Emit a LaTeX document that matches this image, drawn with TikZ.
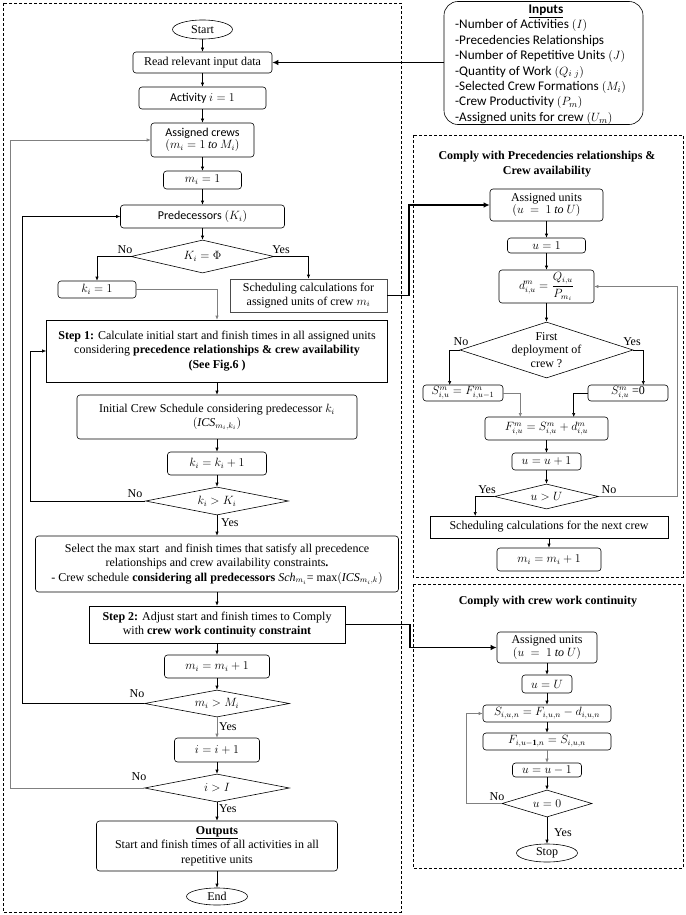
\documentclass[tikz,border=0pt]{standalone}
\usepackage{fontspec}
\setmainfont{Liberation Serif}
\newfontfamily\calib{Carlito}
\usetikzlibrary{shapes.geometric,arrows.meta}
\newcommand{\fs}{\fontsize{12}{14.5}\selectfont}
\newcommand{\fsin}{\fontsize{13.2}{15.4}\selectfont}
\begin{document}
\begin{tikzpicture}[x=1pt,y=-1pt,
  ln/.style={line width=0.6pt,-{Latex[length=4pt,width=3.4pt]}},
  gln/.style={ln,draw=black!50},
  thk/.style={line width=1.8pt,-{Latex[length=6pt,width=5.5pt]}},
  sz/.style 2 args={minimum width=#1pt,minimum height=#2pt},
  rbox/.style={draw,line width=0.6pt,rounded corners=3pt,fill=white,inner sep=0pt,align=center,font=\fs},
  sbox/.style={rbox,rounded corners=0pt},
  cbox/.style={rbox,font=\calib\fs},
  dia/.style={draw,diamond,line width=0.6pt,inner sep=0pt,fill=white},
  termin/.style={draw,ellipse,line width=0.6pt,inner sep=0pt,font=\fs},
  lbl/.style={font=\fs,inner sep=0pt},
  dframe/.style={draw,line width=0.6pt,dash pattern=on 3pt off 2pt},
]
\useasboundingbox (0,0) rectangle (685,915);
\draw[dframe] (3,3) rectangle (401,912);
\draw[dframe] (413,135) rectangle (683,577);
\draw[dframe] (413,584) rectangle (683,868);

% ---------- left column ----------
\node[termin,sz={60}{19}] (start) at (202.5,29.5) {Start};
\node[rbox,sz={139}{21}] (read) at (202.5,62.5) {Read relevant input data};
\node[cbox,sz={127}{22}] (act) at (202.5,98) {Activity $i = 1$};
\node[cbox,sz={103}{34}] (crews) at (202.5,140) {Assigned crews\\[-2pt]$(m_i = 1\ \mathit{to}\ M_i)$};
\node[rbox,sz={78}{18}] (mone) at (202.5,180) {$m_i = 1$};
\node[cbox,sz={164}{23}] (pred) at (202.5,216.5) {Predecessors $(K_i)$};
\node[dia,sz={143}{33},label={[lbl]center:$K_i = \Phi$}] (d1) at (202.5,256.5) {};
\node[rbox,sz={78}{17}] (kone) at (97,289.5) {$k_i = 1$};
\node[sbox,sz={157}{33},draw=black!70] (sched) at (308.5,295.5) {Scheduling calculations for\\[-1pt]assigned units of crew $m_i$};
\node[sbox,sz={341}{62}] (step1) at (217,351) {\textbf{Step 1:} Calculate initial start and finish times in all assigned units\\considering \textbf{precedence relationships \& crew availability}\\\textbf{(See Fig.6 )}};
\node[rbox,sz={280}{44}] (ics) at (217,417) {Initial Crew Schedule considering predecessor $k_i$\\$(\mathit{ICS}_{m_i,k_i})$};
\node[rbox,sz={99}{23}] (kinc) at (217,463.5) {$k_i = k_i + 1$};
\node[dia,sz={143}{28},label={[lbl]center:$k_i > K_i$}] (d2) at (217,501) {};
\node[rbox,sz={363}{56}] (sel) at (217,564) {Select the max start\ \ and finish times that satisfy all precedence\\relationships and crew availability constraints\textbf{.}\\- Crew schedule \textbf{considering all predecessors} $\mathit{Sch}_{m_i}$= max$(\mathit{ICS}_{m_i,k})$};
\node[sbox,sz={256}{37}] (step2) at (217,624.5) {\textbf{Step 2:} Adjust start and finish times to Comply\\with \textbf{crew work continuity constraint}};
\node[rbox,sz={105}{23}] (minc) at (217,666.5) {$m_i = m_i + 1$};
\node[dia,sz={145}{27},label={[lbl]center:$m_i > M_i$}] (d3) at (217,703.5) {};
\node[rbox,sz={85}{24}] (iinc) at (217,750) {$i = i + 1$};
\node[dia,sz={145}{28},label={[lbl]center:$i > I$}] (d4) at (217,788) {};
\node[rbox,sz={241}{50}] (outp) at (217,846) {\textbf{\underline{Outputs}}\\Start and finish times of all activities in all\\repetitive units};
\node[termin,sz={61}{17}] (endn) at (217,896.5) {End};

\node[lbl] (no1) at (125,250) {No};
\node[lbl] (yes1) at (281,250) {Yes};
\node[lbl] (no2) at (135,494) {No};
\node[lbl,anchor=west] (yes2) at (221,523) {Yes};
\node[lbl] (no3) at (137,694) {No};
\node[lbl,anchor=west] (yes3) at (219,727) {Yes};
\node[lbl] (no4) at (139,777) {No};
\node[lbl,anchor=west] (yes4) at (219,809) {Yes};

\draw[ln] (start) -- (read);
\draw[ln] (read) -- (act);
\draw[ln] (act) -- (crews);
\draw[ln] (crews) -- (mone);
\draw[ln] (mone) -- (pred);
\draw[ln] (pred) -- (d1);
\draw[ln] (d1.west) -| (kone.north);
\draw[ln] (d1.east) -| (sched.north);
\draw[gln] (kone.east) -| (step1.north);
\draw[ln] (step1) -- (ics);
\draw[ln] (ics) -- (kinc);
\draw[ln] (kinc) -- (d2);
\draw[ln] (d2.west) -- ++(-114.5,0) |- (step1.west);
\draw[ln] (d2) -- (sel);
\draw[ln] (sel) -- (step2);
\draw[ln] (step2) -- (minc);
\draw[ln] (minc) -- (d3);
\draw[ln] (d3.west) -- ++(-121.5,0) |- (pred.west);
\draw[gln] (d3) -- (iinc);
\draw[ln] (iinc) -- (d4);
\draw[gln] (d4.west) -- ++(-133.5,0) |- (crews.west);
\draw[ln] (d4) -- (outp);
\draw[ln] (outp) -- (endn);

% ---------- inputs ----------
\node[draw,line width=0.6pt,rounded corners=14pt,fill=white,sz={199}{123}] (inputs) at (543.5,63) {};
\node[font=\calib\fsin\bfseries,inner sep=0pt] (intitle) at (546,11) {\underline{Inputs}};
\node[font=\calib\fsin,align=left,anchor=north west,inner sep=0pt] (inlist) at (455,19.5) {-Number of Activities $(I)$\\-Precedencies Relationships\\-Number of Repetitive Units $(J)$\\-Quantity of Work $(Q_{i\ j})$\\-Selected Crew Formations $(M_i)$\\-Crew Productivity $(P_m)$\\-Assigned units for crew $(U_m)$};
\draw[thk] (inputs.west |- read.east) -- (read.east);

% ---------- precedence section ----------
\node[lbl,align=center,font=\fs\bfseries] (title1) at (547,164) {Comply with Precedencies relationships \&\\Crew availability};
\node[rbox,sz={113}{32}] (au1) at (546.5,205) {Assigned units\\[-2pt]$(u\ =\ 1\ \mathit{to}\ U)$};
\node[rbox,sz={78}{15}] (u1) at (546.5,245.5) {$u = 1$};
\node[rbox,sz={95}{33}] (dbox) at (546.5,286.5) {$d^m_{i,u} = {\displaystyle\frac{Q_{i,u}}{P_{m_i}}}$};
\node[dia,sz={173}{56},label={[lbl,align=center,font=\fontsize{12}{13.5}\selectfont]center:First\\deployment of\\crew ?}] (dd) at (546.5,350) {};
\node[rbox,sz={80}{16}] (sl) at (463,393) {$S^m_{i,u} = F^m_{i,u-1}$};
\node[rbox,sz={80}{16}] (s0) at (628,393) {$S^m_{i,u}$ =0};
\node[rbox,sz={123}{23}] (fbox) at (546.5,428.5) {$F^m_{i,u} = S^m_{i,u} + d^m_{i,u}$};
\node[rbox,sz={69}{17}] (uinc) at (546.5,461.5) {$u = u + 1$};
\node[dia,sz={104}{25},label={[lbl]center:$u > U$}] (dU) at (546.5,496.5) {};
\node[sbox,sz={238}{22}] (nextc) at (549,527) {Scheduling calculations for the next crew};
\node[rbox,sz={104}{23}] (mnext) at (549,559.5) {$m_i = m_i + 1$};

\node[lbl] (no5) at (461,342) {No};
\node[lbl] (yes5) at (632,342) {Yes};
\node[lbl] (yes6) at (487,490) {Yes};
\node[lbl] (no6) at (609,490) {No};

\draw[thk] (sched.east) -- ++(22,0) |- (au1.west);
\draw[ln] (au1) -- (u1);
\draw[ln] (u1) -- (dbox);
\draw[ln] (dbox) -- (dd);
\draw[ln] (dd.west) -- ++(-10,0) -- ++(0,35);
\draw[ln] (dd.east) -- ++(10,0) -- ++(0,35);
\draw[gln] (sl.east) -- ++(17,0) -- ++(0,24);
\draw[ln] (s0.west) -- ++(-14,0) -- ++(0,24);
\draw[ln] (fbox) -- (uinc);
\draw[ln] (uinc) -- (dU);
\draw[ln] (dU.west) -- ++(-19,0) -- ++(0,19.5);
\draw[gln] (dU.east) -- ++(78,0) |- (dbox.east);
\draw[ln] (nextc) -- (mnext);

% ---------- continuity section ----------
\node[lbl,font=\fs\bfseries] (title2) at (548,602) {Comply with crew work continuity};
\node[rbox,sz={100}{31}] (au2) at (547,647.5) {Assigned units\\[-2pt]$(u\ =\ 1\ \mathit{to}\ U)$};
\node[rbox,sz={50}{18}] (uU) at (547,684) {$u = U$};
\node[rbox,sz={128}{17}] (sb) at (547,713.5) {$S_{i,u,n} = F_{i,u,n} - d_{i,u,n}$};
\node[rbox,sz={128}{17}] (fb) at (547,741.5) {$F_{i,u-\mathbf{1},n} = S_{i,u,n}$};
\node[rbox,sz={69}{14}] (udec) at (547,770) {$u = u - 1$};
\node[dia,sz={90}{27},label={[lbl]center:$u = 0$}] (d0) at (547,803.5) {};
\node[termin,sz={61}{18}] (stop) at (547,853) {Stop};
\node[lbl] (no7) at (497,797) {No};
\node[lbl,anchor=west] (yes7) at (554,833) {Yes};

\draw[thk] (step2.east) -- ++(65,0) |- (au2.west);
\draw[ln] (au2) -- (uU);
\draw[ln] (uU) -- (sb);
\draw[ln] (sb) -- (fb);
\draw[gln] (fb) -- (udec);
\draw[ln] (udec) -- (d0);
\draw[gln] (d0.west) -- ++(-35,0) |- (sb.west);
\draw[ln] (d0) -- (stop);
\end{tikzpicture}
\end{document}
